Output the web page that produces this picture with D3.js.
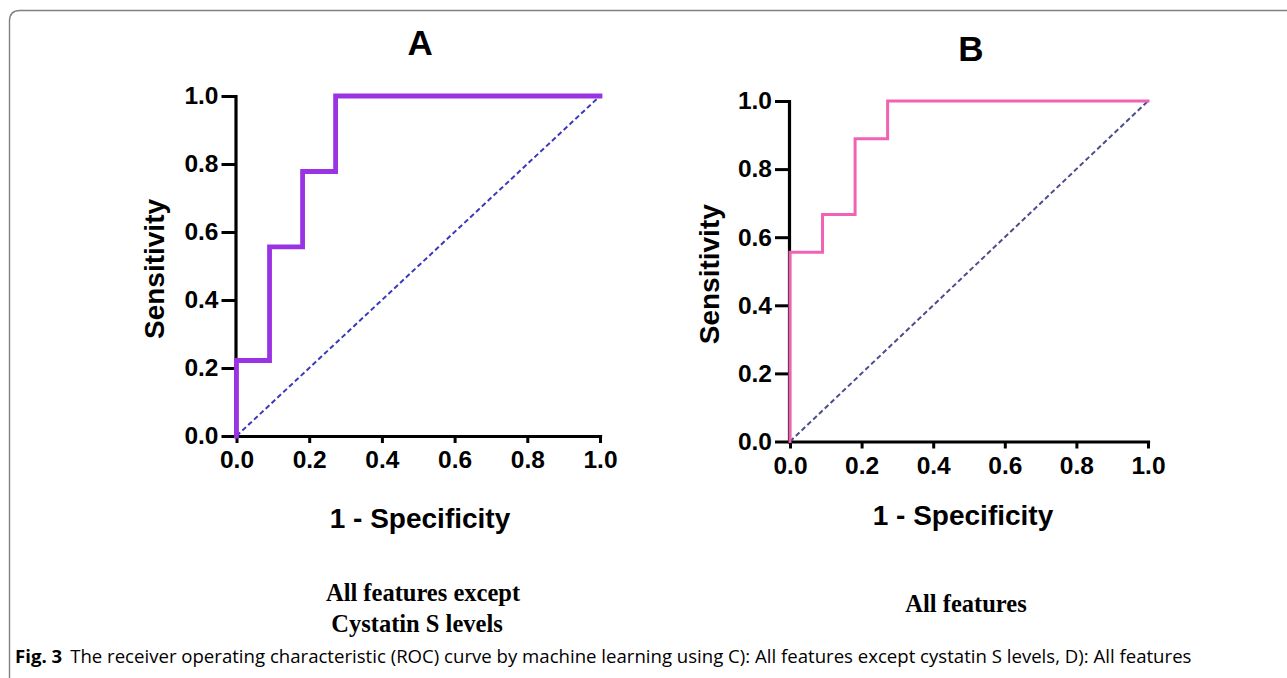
<!DOCTYPE html>
<html>
<head>
<meta charset="utf-8">
<script src="https://cdn.jsdelivr.net/npm/d3@7"></script>
<style>
  html, body { margin: 0; padding: 0; background: #fff; }
  svg { display: block; }
</style>
</head>
<body>
<svg id="fig" width="1287" height="678"></svg>
<script>
// ROC points (1 - specificity, sensitivity)
const rocA_fpr = [0, 0, 0.0909, 0.0909, 0.1818, 0.1818, 0.2727, 0.2727, 1];
const rocA_tpr = [0, 0.222, 0.222, 0.556, 0.556, 0.778, 0.778, 1, 1];
const rocB_fpr = [0, 0, 0.0909, 0.0909, 0.1818, 0.1818, 0.2727, 0.2727, 1];
const rocB_tpr = [0, 0.556, 0.556, 0.667, 0.667, 0.889, 0.889, 1, 1];
const refLine = [0, 1]; // chance diagonal
const axisTicks = [0, 0.2, 0.4, 0.6, 0.8, 1.0];

const svg = d3.select("#fig");

// frame around the figure
svg.append("path")
  .attr("d", "M9.5,678 L9.5,21 Q9.5,10.5 20,10.5 L1287,10.5")
  .attr("fill", "none")
  .attr("stroke", "#808080")
  .attr("stroke-width", 1.4);

const drawRoc = ({
  fpr,
  tpr,
  x0, x1, y0, y1,
  title, titleY,
  lineColor, lineWidth,
  diagColor,
  xTitleX, xTitleY,
  yTitleX,
}) => {
  const x = d3.scaleLinear().domain([0, 1]).range([x0, x1]);
  const y = d3.scaleLinear().domain([0, 1]).range([y0, y1]);
  const g = svg.append("g");

  // dashed chance line
  g.append("path")
    .datum(refLine)
    .attr("fill", "none")
    .attr("stroke", diagColor)
    .attr("stroke-width", 2)
    .attr("stroke-dasharray", "5,3")
    .attr("d", d3.line().x((d) => x(d)).y((d) => y(d)));

  // axes
  const ax = g.append("g")
    .attr("transform", `translate(0,${y0})`)
    .call(d3.axisBottom(x).tickValues(axisTicks).tickFormat(d3.format(".1f"))
      .tickSize(7).tickSizeOuter(0).tickPadding(8));
  const ay = g.append("g")
    .attr("transform", `translate(${x0 - 1},0)`)
    .call(d3.axisLeft(y).tickValues(axisTicks).tickFormat(d3.format(".1f"))
      .tickSize(14).tickSizeOuter(0).tickPadding(3));

  [ax, ay].forEach((a) => {
    a.select(".domain").attr("stroke", "#000").attr("stroke-width", 3.2)
      .attr("stroke-linecap", "square");
    a.selectAll(".tick line").attr("stroke", "#000").attr("stroke-width", 3);
    a.selectAll(".tick text")
      .attr("fill", "#000")
      .style("font-family", "'Liberation Sans', Arial, sans-serif")
      .style("font-weight", "bold")
      .style("font-size", "24.5px");
  });

  // ROC step line
  g.append("path")
    .datum(d3.range(fpr.length))
    .attr("fill", "none")
    .attr("stroke", lineColor)
    .attr("stroke-width", lineWidth)
    .attr("stroke-linejoin", "miter")
    .attr("stroke-linecap", "square")
    .attr("d", d3.line().x((i) => x(fpr[i])).y((i) => y(tpr[i])));

  const font = "'Liberation Sans', Arial, sans-serif";
  g.append("text")
    .attr("x", (x0 + x1) / 2 + 2)
    .attr("y", titleY)
    .attr("text-anchor", "middle")
    .style("font-family", font).style("font-weight", "bold").style("font-size", "35px")
    .text(title);

  g.append("text")
    .attr("x", xTitleX)
    .attr("y", xTitleY)
    .attr("text-anchor", "middle")
    .style("font-family", font).style("font-weight", "bold").style("font-size", "28px")
    .text("1 - Specificity");

  g.append("text")
    .attr("transform", `translate(${yTitleX},${(y0 + y1) / 2 + 3}) rotate(-90)`)
    .attr("text-anchor", "middle")
    .style("font-family", font).style("font-weight", "bold").style("font-size", "28px")
    .text("Sensitivity");
};

drawRoc({
  fpr: rocA_fpr, tpr: rocA_tpr,
  x0: 236.5, x1: 600, y0: 436, y1: 96,
  title: "A", titleY: 55,
  lineColor: "#9933e3", lineWidth: 4.8,
  diagColor: "#3a3ab8",
  xTitleX: 420, xTitleY: 528,
  yTitleX: 164,
});

drawRoc({
  fpr: rocB_fpr, tpr: rocB_tpr,
  x0: 790, x1: 1148, y0: 441.5, y1: 101,
  title: "B", titleY: 60.5,
  lineColor: "#f062b4", lineWidth: 3,
  diagColor: "#4d4d8c",
  xTitleX: 963, xTitleY: 525,
  yTitleX: 719,
});

// panel sub-labels
const serif = "'Liberation Serif', 'Times New Roman', serif";
const subA = ["All features except", "Cystatin S levels"];
svg.append("text")
  .attr("x", 423).attr("y", 601)
  .attr("text-anchor", "middle")
  .style("font-family", serif).style("font-weight", "bold").style("font-size", "24.5px")
  .text(subA[0]);
svg.append("text")
  .attr("x", 417).attr("y", 632)
  .attr("text-anchor", "middle")
  .style("font-family", serif).style("font-weight", "bold").style("font-size", "24.5px")
  .text(subA[1]);
svg.append("text")
  .attr("x", 966).attr("y", 612)
  .attr("text-anchor", "middle")
  .style("font-family", serif).style("font-weight", "bold").style("font-size", "24.5px")
  .text("All features");

// figure caption
const cap = svg.append("text")
  .attr("x", 15).attr("y", 663)
  .style("font-family", "'Open Sans', 'Noto Sans', sans-serif")
  .style("font-size", "18.6px");
cap.append("tspan").style("font-weight", "bold").text("Fig. 3");
cap.append("tspan").attr("dx", 8)
  .text("The receiver operating characteristic (ROC) curve by machine learning using C): All features except cystatin S levels, D): All features");
</script>
</body>
</html>
